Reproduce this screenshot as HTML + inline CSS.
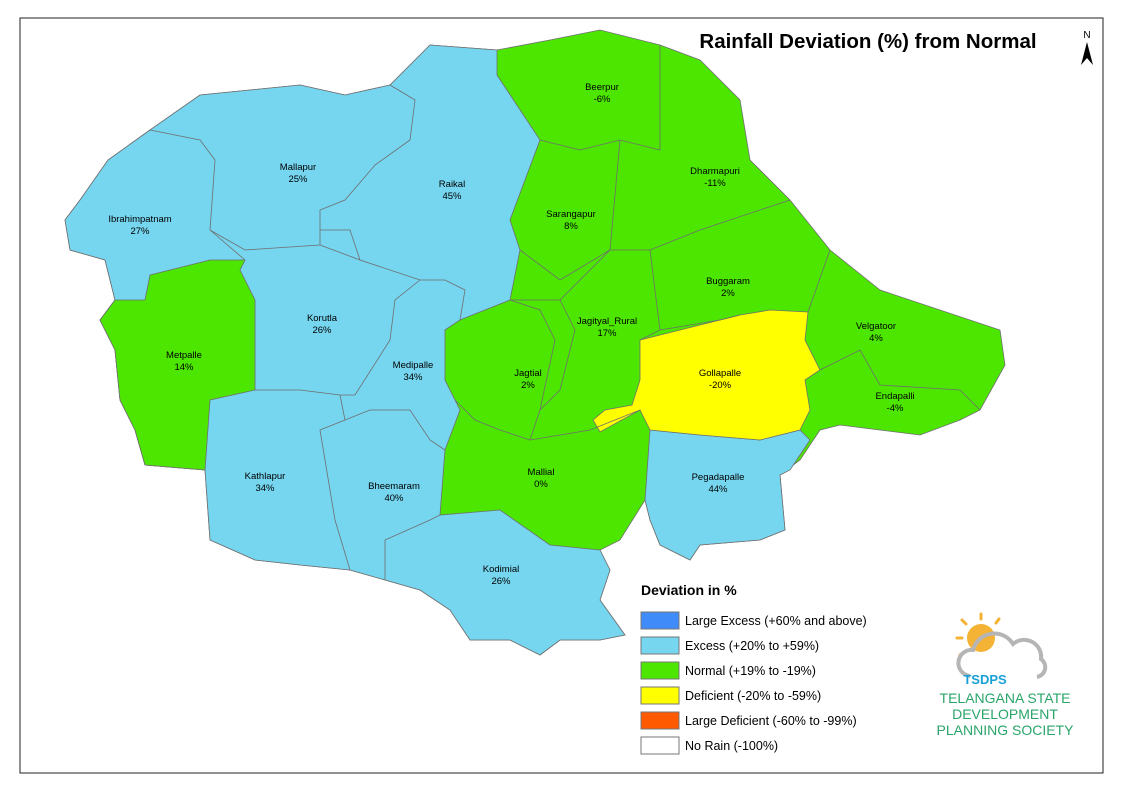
<!DOCTYPE html>
<html><head><meta charset="utf-8"><style>
body{margin:0;background:#fff;width:1122px;height:794px;overflow:hidden;font-family:"Liberation Sans",sans-serif}
svg text{font-family:"Liberation Sans",sans-serif}
</style></head><body>
<svg id="m" width="1122" height="794" viewBox="0 0 1122 794">
<rect x="20" y="18" width="1083" height="755" fill="#fff" stroke="#222" stroke-width="1"/>
<g stroke="#6f6f6f" stroke-width="0.8">
<polygon fill="#4ce600" points="430,45 497,50 550,40 600,30 660,45 700,60 740,100 750,160 790,200 830,250 880,290 1000,330 1005,365 980,410 960,420 920,435 880,430 840,425 820,430 800,460 780,475 785,530 760,540 700,545 690,560 680,555 660,545 650,520 645,500 620,540 600,550 610,570 600,600 625,635 600,640 560,640 540,655 510,640 470,640 450,610 420,590 385,580 350,570 300,565 255,560 210,540 205,470 145,465 135,430 120,400 115,350 100,320 115,300 105,260 70,250 65,220 80,200 108,160 150,130 200,95 300,85 345,95 390,85"/>
<polygon fill="#76d5ef" points="430,45 497,50 497,75 540,140 510,220 520,250 510,300 460,320 445,330 445,380 460,410 445,450 440,515 500,510 550,545 600,550 610,570 600,600 625,635 600,640 560,640 540,655 510,640 470,640 450,610 420,590 385,580 350,570 300,565 255,560 210,540 205,470 145,465 135,430 120,400 115,350 100,320 115,300 105,260 70,250 65,220 80,200 108,160 150,130 200,95 300,85 345,95 390,85"/>
<polygon fill="#4ce600" points="150,275 210,260 245,260 240,270 255,300 255,390 210,400 205,470 145,465 135,430 120,400 115,350 100,320 115,300 145,300"/>
<polygon fill="#76d5ef" points="650,430 700,435 760,440 800,430 810,440 790,470 780,475 785,530 760,540 700,545 690,560 680,555 660,545 650,520 645,500"/>
<polygon fill="#ffff00" points="640,340 680,330 740,315 770,310 808,312 805,340 820,370 805,380 810,410 800,430 760,440 700,435 650,430 640,410 600,432 593,420 605,410 632,405 640,380"/>
<g fill="none">
<polyline points="215,160 200,140 150,130"/><polyline points="215,160 210,230 245,260"/>
<polyline points="210,230 245,250 320,245 320,210 345,200 375,165 410,140 415,100 390,85"/>
<polyline points="320,230 350,230 360,260 420,280 445,280 465,290 460,320"/>
<polyline points="320,245 360,260"/><polyline points="420,280 395,300 390,340 355,395 340,395 300,390 255,390"/>
<polyline points="340,395 345,420 320,430 335,520 350,570"/><polyline points="345,420 370,410 410,410 430,440 445,450"/>
<polyline points="385,580 385,540 430,520 440,515"/>
<polyline points="510,300 540,310 555,340 540,410 530,440 500,430 475,420 455,400"/>
<polyline points="510,300 560,300 575,330 560,390 540,410"/>
<polyline points="530,440 590,430 640,410"/>
<polyline points="540,140 580,150 620,140 660,150 660,45"/><polyline points="620,140 610,250 650,250"/>
<polyline points="560,300 610,250 560,280 520,250"/>
<polyline points="650,250 700,230 790,200"/><polyline points="650,250 660,330 640,340"/>
<polyline points="660,330 720,320 740,315"/><polyline points="808,312 830,250"/>
<polyline points="820,370 860,350 880,385 960,390 980,410"/>
</g></g>
<g font-size="9.5" fill="#000" text-anchor="middle">
<text x="602" y="90">Beerpur</text><text x="602" y="102">-6%</text>
<text x="715" y="174">Dharmapuri</text><text x="715" y="186">-11%</text>
<text x="298" y="170">Mallapur</text><text x="298" y="182">25%</text>
<text x="452" y="187">Raikal</text><text x="452" y="199">45%</text>
<text x="140" y="222">Ibrahimpatnam</text><text x="140" y="234">27%</text>
<text x="571" y="217">Sarangapur</text><text x="571" y="229">8%</text>
<text x="728" y="284">Buggaram</text><text x="728" y="296">2%</text>
<text x="322" y="321">Korutla</text><text x="322" y="333">26%</text>
<text x="607" y="324">Jagityal_Rural</text><text x="607" y="336">17%</text>
<text x="876" y="329">Velgatoor</text><text x="876" y="341">4%</text>
<text x="184" y="358">Metpalle</text><text x="184" y="370">14%</text>
<text x="413" y="368">Medipalle</text><text x="413" y="380">34%</text>
<text x="528" y="376">Jagtial</text><text x="528" y="388">2%</text>
<text x="720" y="376">Gollapalle</text><text x="720" y="388">-20%</text>
<text x="895" y="399">Endapalli</text><text x="895" y="411">-4%</text>
<text x="718" y="480">Pegadapalle</text><text x="718" y="492">44%</text>
<text x="265" y="479">Kathlapur</text><text x="265" y="491">34%</text>
<text x="541" y="475">Mallial</text><text x="541" y="487">0%</text>
<text x="394" y="489">Bheemaram</text><text x="394" y="501">40%</text>
<text x="501" y="572">Kodimial</text><text x="501" y="584">26%</text>
</g>
<text x="868" y="48" font-size="20.5" font-weight="bold" text-anchor="middle">Rainfall Deviation (%) from Normal</text>
<g><text x="1087" y="38" font-size="10" text-anchor="middle">N</text><polygon points="1087,42 1081,65 1087,58 1093,65" fill="#000"/></g>
<text x="641" y="595" font-size="14" font-weight="bold">Deviation in %</text>
<g id="legend"></g>
<g>
<g stroke="#f5b335" stroke-width="3" stroke-linecap="round"><line x1="962" y1="620" x2="966" y2="624"/><line x1="981" y1="614" x2="981" y2="619"/><line x1="999" y1="619" x2="996" y2="623"/><line x1="957" y1="638" x2="962" y2="638"/><line x1="960" y1="655" x2="964" y2="652"/></g>
<circle cx="981" cy="638" r="14" fill="#f5b335"/>
<path d="M970,676 a13,13 0 0 1 3,-26 a22,22 0 0 1 40,-6 a17,17 0 0 1 28,15 a10,10 0 0 1 -4,18" fill="none" stroke="#b5b5b5" stroke-width="4"/>
<text x="985" y="684" font-size="13" font-weight="bold" fill="#1aa0d8" text-anchor="middle">TSDPS</text>
<text x="1005" y="703" font-size="14" fill="#2aa56a" text-anchor="middle">TELANGANA STATE</text>
<text x="1005" y="719" font-size="14" fill="#2aa56a" text-anchor="middle">DEVELOPMENT</text>
<text x="1005" y="735" font-size="14" fill="#2aa56a" text-anchor="middle">PLANNING SOCIETY</text>
</g>
</svg>
<script>
const legendLabels=["Large Excess (+60% and above)","Excess (+20% to +59%)","Normal (+19% to -19%)","Deficient (-20% to -59%)","Large Deficient (-60% to -99%)","No Rain (-100%)"];
const legendColors=["#3f8bfa","#76d5ef","#4ce600","#ffff00","#ff5a00","#ffffff"];
const g=document.getElementById('legend');const NS="http://www.w3.org/2000/svg";
legendLabels.forEach((l,i)=>{
 const y=612+i*25;
 const r=document.createElementNS(NS,'rect');
 r.setAttribute('x',641);r.setAttribute('y',y);r.setAttribute('width',38);r.setAttribute('height',17);
 r.setAttribute('fill',legendColors[i]);r.setAttribute('stroke','#777');
 
 
 g.appendChild(r);
 const t=document.createElementNS(NS,'text');
 t.setAttribute('x',685);t.setAttribute('y',y+13);t.setAttribute('font-size',12.5);t.textContent=l;
 
 
 g.appendChild(t);
});
</script>
</body></html>
